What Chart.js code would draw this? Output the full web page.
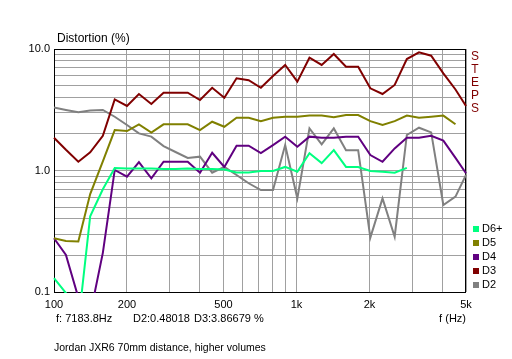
<!DOCTYPE html>
<html>
<head>
<meta charset="utf-8">
<script src="https://cdn.jsdelivr.net/npm/chart.js@4.4.0/dist/chart.umd.min.js"></script>
<style>
  html, body { margin: 0; padding: 0; background: #fff; }
  #wrap { width: 512px; height: 359px; }
</style>
</head>
<body>
<div id="wrap"><canvas id="chart" width="512" height="359"></canvas></div>
<script>
// 1/6 octave measurement points (Hz)
const freqs = [100, 112, 126, 141, 159, 178, 200, 224, 252, 283, 317, 356, 400, 449, 504, 566, 635, 713,
  800, 898, 1008, 1131, 1270, 1425, 1600, 1796, 2016, 2263, 2540, 2851, 3200, 3592, 4032, 4525, 5000];

// distortion in %
const d6 = [0.130, 0.098, 0.055, 0.42, 0.70, 1.05, 1.04, 1.04, 1.04, 1.03, 1.03, 1.04, 1.03, 1.03, 1.02, 0.963, 0.965, 0.99,
  0.99, 1.07, 0.977, 1.39, 1.15, 1.47, 1.07, 1.07, 0.99, 0.977, 0.96, 1.05, null, null, null, null, null];
const d5 = [0.277, 0.263, 0.261, 0.64, 1.19, 2.15, 2.11, 2.40, 2.05, 2.40, 2.40, 2.40, 2.15, 2.52, 2.29, 2.72, 2.72, 2.55,
  2.72, 2.77, 2.77, 2.83, 2.83, 2.75, 2.86, 2.86, 2.55, 2.37, 2.55, 2.83, 2.72, 2.77, 2.83, 2.40, null];
const d4 = [0.277, 0.202, 0.09, 0.065, 0.21, 1.01, 0.889, 1.17, 0.863, 1.18, 1.18, 1.18, 0.96, 1.40, 1.07, 1.60, 1.60, 1.39,
  1.62, 1.90, 1.57, 1.90, 1.86, 1.86, 1.90, 1.90, 1.34, 1.18, 1.52, 1.86, 1.86, 1.93, 1.76, 1.27, 0.95];
const d3 = [1.86, 1.48, 1.18, 1.41, 1.93, 3.85, 3.40, 4.26, 3.53, 4.37, 4.37, 4.37, 3.80, 4.80, 3.97, 5.74, 5.53, 4.80,
  6.0, 7.39, 5.38, 8.48, 7.39, 9.1, 7.15, 7.15, 4.75, 4.26, 5.06, 8.27, 9.39, 8.81, 6.31, 4.64, 3.40];
const d2 = [3.30, 3.15, 3.01, 3.12, 3.15, 2.77, 2.37, 2.02, 1.90, 1.59, 1.42, 1.27, 1.30, 0.96, 1.07, 0.918, 0.785, 0.69,
  0.69, 1.62, 0.59, 2.22, 1.64, 2.22, 1.47, 1.47, 0.28, 0.59, 0.285, 1.96, 2.25, 2.06, 0.52, 0.61, 0.92];

const seriesNames = ['D6+', 'D5', 'D4', 'D3', 'D2'];
const seriesColors = ['#00ff80', '#808000', '#600080', '#800000', '#808080'];
const seriesValues = [d6, d5, d4, d3, d2];

const xGrid = [100, 200, 300, 400, 500, 600, 700, 800, 900, 1000, 2000, 3000, 4000, 5000];
const xTickText = { 100: '100', 200: '200', 500: '500', 1000: '1k', 2000: '2k', 5000: '5k' };
const yGrid = [0.1, 0.2, 0.3, 0.4, 0.5, 0.6, 0.7, 0.8, 0.9, 1, 2, 3, 4, 5, 6, 7, 8, 9, 10];
const yTickText = { 0.1: '0.1', 1: '1.0', 10: '10.0' };

const FONT = '"Liberation Sans", Arial, sans-serif';
Chart.defaults.font.family = FONT;
Chart.defaults.color = '#000';

function toPoints(values) {
  return freqs.map((f, i) => ({ x: f, y: values[i] }));
}

// black frame round the plot, under the curves
const framePlugin = {
  id: 'frame',
  beforeDatasetsDraw(chart) {
    const { ctx, chartArea: a } = chart;
    ctx.save();
    ctx.strokeStyle = '#000';
    ctx.lineWidth = 1;
    ctx.strokeRect(a.left + 0.5, a.top + 0.5, a.right - a.left - 1, a.bottom - a.top);
    ctx.restore();
  }
};

// titles, status line, STEPS button and legend
const textPlugin = {
  id: 'texts',
  afterDraw(chart) {
    const { ctx, chartArea: a } = chart;
    ctx.save();
    ctx.fillStyle = '#000';
    ctx.textBaseline = 'middle';
    ctx.textAlign = 'left';
    ctx.font = '12px ' + FONT;
    ctx.fillText('Distortion (%)', a.left + 3, 39);

    ctx.font = '11px ' + FONT;
    ctx.fillText('f: 7183.8Hz', 56, 319);
    ctx.fillText('D2:0.48018', 133, 319);
    ctx.fillText('D3:3.86679 %', 194, 319);
    ctx.textAlign = 'right';
    ctx.fillText('f (Hz)', a.right, 319);
    ctx.textAlign = 'left';
    ctx.font = '10.5px ' + FONT;
    ctx.fillText('Jordan JXR6 70mm distance, higher volumes', 54, 348);

    // STEPS
    ctx.textAlign = 'center';
    ctx.font = '12px ' + FONT;
    ctx.fillStyle = '#800000';
    'STEPS'.split('').forEach((ch, i) => ctx.fillText(ch, 475, 57 + i * 13));

    // legend
    ctx.textAlign = 'left';
    ctx.font = '11px ' + FONT;
    seriesNames.forEach((name, i) => {
      const y = 229 + i * 14;
      ctx.fillStyle = seriesColors[i];
      ctx.fillRect(473, y - 3, 6, 6);
      ctx.fillStyle = '#000';
      ctx.fillText(name, 482, y);
    });
    ctx.restore();
  }
};

new Chart(document.getElementById('chart'), {
  type: 'line',
  data: {
    datasets: seriesNames.map((name, i) => ({
      label: name,
      data: toPoints(seriesValues[i]),
      borderColor: seriesColors[i],
      backgroundColor: seriesColors[i],
      borderWidth: 2,
      pointRadius: 0,
      tension: 0,
      spanGaps: false,
      clip: 1
    }))
  },
  options: {
    responsive: false,
    animation: false,
    devicePixelRatio: 1,
    layout: { padding: { top: 49, right: 46, left: 0, bottom: 0 } },
    plugins: {
      legend: { display: false },
      tooltip: { enabled: false }
    },
    scales: {
      x: {
        type: 'logarithmic',
        min: 100,
        max: 5000,
        afterBuildTicks: s => { s.ticks = xGrid.map(v => ({ value: v })); },
        afterFit: s => { s.height = 67; },
        grid: { color: '#a0a0a0', lineWidth: 1, drawTicks: false },
        border: { display: false },
        ticks: {
          autoSkip: false,
          maxRotation: 0,
          padding: 6,
          font: { size: 11 },
          color: '#000',
          callback: v => xTickText[v] || ''
        }
      },
      y: {
        type: 'logarithmic',
        min: 0.1,
        max: 10,
        afterBuildTicks: s => { s.ticks = yGrid.map(v => ({ value: v })); },
        afterFit: s => { s.width = 54; },
        grid: { color: '#a0a0a0', lineWidth: 1, drawTicks: false },
        border: { display: false },
        ticks: {
          autoSkip: false,
          padding: 4,
          font: { size: 11 },
          color: '#000',
          callback: v => yTickText[v] || ''
        }
      }
    }
  },
  plugins: [framePlugin, textPlugin]
});
</script>
</body>
</html>
